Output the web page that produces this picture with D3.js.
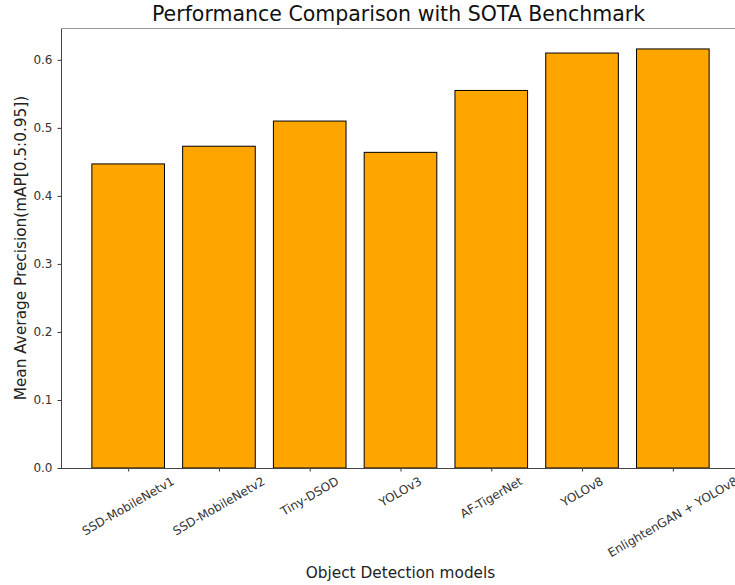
<!doctype html>
<html>
<head>
<script src="https://d3js.org/d3.v7.min.js"></script>
<style>
body { margin: 0; background: white; }
text { font-family: "DejaVu Sans", sans-serif; }
</style>
</head>
<body>
<svg width="735" height="585" class="chart"></svg>
<script>
var models = ["SSD-MobileNetv1", "SSD-MobileNetv2", "Tiny-DSOD", "YOLOv3", "AF-TigerNet", "YOLOv8", "EnlightenGAN + YOLOv8"];
var mapScores = [0.447, 0.473, 0.510, 0.464, 0.555, 0.610, 0.616];
var yTicks = [0.0, 0.1, 0.2, 0.3, 0.4, 0.5, 0.6];

var svg = d3.select(".chart");

var mLeft = 61, mRight = 740, mTop = 28, mBottom = 468;

// matplotlib style: bars width 0.8, 5% margins
var n = models.length;
var xScale = d3.scaleLinear().domain([-0.74, n - 1 + 0.74]).range([mLeft, mRight]);
var yScale = d3.scaleLinear().domain([0, 0.6468]).range([mBottom, mTop]);
var barW = xScale(0.8) - xScale(0);

var g = svg.append("g");

g.selectAll("rect.bar")
  .data(mapScores)
  .enter().append("rect")
  .attr("class", "bar")
  .attr("x", function(d, i) { return xScale(i - 0.4); })
  .attr("y", function(d) { return yScale(d); })
  .attr("width", barW)
  .attr("height", function(d) { return yScale(0) - yScale(d); })
  .style("fill", "orange")
  .style("stroke", "black")
  .style("stroke-width", 1);

// y axis
var yAxis = g.append("g")
  .attr("transform", "translate(" + mLeft + ",0)")
  .call(d3.axisLeft(yScale).tickValues(yTicks).tickFormat(d3.format(".1f")).tickSize(3.5).tickPadding(5));
yAxis.select(".domain").remove();
yAxis.selectAll("line").style("stroke", "#333");
yAxis.selectAll("text").style("font-size", "12px").style("fill", "#333");

// x axis ticks
var xAxis = g.append("g")
  .attr("transform", "translate(0," + mBottom + ")")
  .call(d3.axisBottom(xScale).tickValues(d3.range(n)).tickFormat("").tickSize(3.5));
xAxis.select(".domain").remove();
xAxis.selectAll("line").style("stroke", "#333");

// rotated tick labels (bbox centered under tick, like matplotlib rotation=30)
var labelTop = mBottom + 7;
var ang = 30 * Math.PI / 180;
g.selectAll("text.xlab")
  .data(models)
  .enter().append("text")
  .attr("class", "xlab")
  .attr("text-anchor", "middle")
  .attr("dominant-baseline", "central")
  .style("font-size", "12px")
  .style("fill", "#333")
  .text(function(d) { return d; })
  .attr("transform", function(d, i) {
    var w = this.getComputedTextLength();
    var h = 12;
    var bh = w * Math.sin(ang) + h * Math.cos(ang);
    return "translate(" + xScale(i) + "," + (labelTop + bh / 2) + ")rotate(-30)";
  });

// spines
var spines = g.append("g").style("stroke", "#444").style("stroke-width", 1).style("fill", "none");
spines.append("line").attr("x1", mLeft + 0.5).attr("x2", mLeft + 0.5).attr("y1", mTop).attr("y2", mBottom + 0.5);
spines.append("line").attr("x1", mLeft).attr("x2", mRight).attr("y1", mBottom + 0.5).attr("y2", mBottom + 0.5);
spines.append("line").attr("x1", mLeft).attr("x2", mRight).attr("y1", mTop + 0.5).attr("y2", mTop + 0.5).style("stroke", "#999");
spines.append("line").attr("x1", mRight + 0.5).attr("x2", mRight + 0.5).attr("y1", mTop).attr("y2", mBottom);

// titles
svg.append("text")
  .attr("x", (mLeft + mRight) / 2 - 2)
  .attr("y", 21)
  .attr("text-anchor", "middle")
  .style("font-size", "20.5px")
  .style("fill", "#111")
  .text("Performance Comparison with SOTA Benchmark");

svg.append("text")
  .attr("x", (mLeft + mRight) / 2)
  .attr("y", 578)
  .attr("text-anchor", "middle")
  .style("font-size", "15.3px")
  .style("fill", "#222")
  .text("Object Detection models");

svg.append("text")
  .attr("text-anchor", "middle")
  .attr("transform", "translate(26," + (mTop + mBottom) / 2 + ")rotate(-90)")
  .style("font-size", "15.3px")
  .style("fill", "#222")
  .text("Mean Average Precision(mAP[0.5:0.95])");
</script>
</body>
</html>
